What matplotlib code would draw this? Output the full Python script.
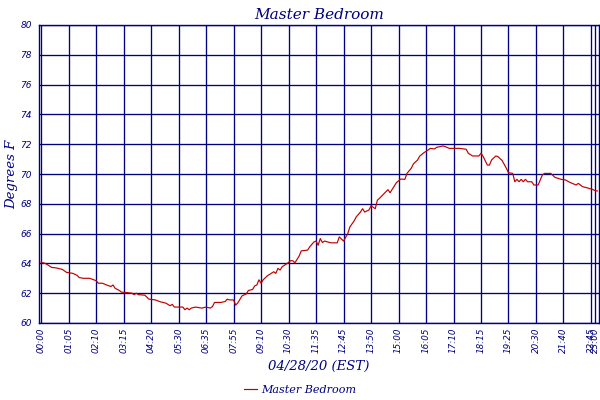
#!/usr/bin/env python3
"""Master Bedroom temperature log, 04/28/20."""

import matplotlib

matplotlib.use("Agg")
import matplotlib.pyplot as plt

NAVY = "#000080"
RED = "#C00000"

# sample index of each reading and its temperature (deg F)
SAMPLE_IDX = [
    0, 2, 5, 7, 10, 12, 15, 17, 18, 20, 23, 26, 27, 29, 31, 33, 34, 35, 37, 38,
    40, 43, 44, 45, 46, 49, 51, 54, 56, 59, 61, 62, 63, 65, 67, 68, 69, 70, 71,
    73, 76, 78, 80, 81, 82, 85, 87, 88, 89, 91, 92, 93, 95, 97, 98, 100, 101,
    102, 103, 104, 105, 107, 108, 110, 111, 112, 113, 114, 116, 118, 119, 120,
    122, 123, 126, 127, 129, 130, 131, 132, 133, 134, 137, 140, 141, 143, 145,
    146, 148, 149, 151, 152, 153, 155, 156, 158, 159, 160, 163, 164, 165, 167,
    168, 170, 172, 173, 175, 176, 178, 179, 181, 183, 184, 186, 187, 190, 191,
    193, 198, 201, 202, 204, 207, 208, 209, 211, 212, 213, 215, 216, 218, 220,
    221, 223, 224, 225, 226, 227, 228, 229, 230, 232, 233, 235, 237, 238, 241,
    243, 246, 248, 250, 253, 254, 256, 258, 261, 262, 263,
]
TEMP_F = [
    64.07, 64.0, 63.73, 63.7, 63.6, 63.4, 63.33, 63.2, 63.05, 63.0, 63.0, 62.84,
    62.67, 62.67, 62.55, 62.45, 62.55, 62.33, 62.18, 62.07, 62.05, 62.0, 61.9,
    62.0, 61.9, 61.87, 61.6, 61.55, 61.44, 61.33, 61.16, 61.25, 61.07, 61.07,
    61.07, 60.89, 61.0, 60.89, 61.0, 61.07, 61.0, 61.07, 61.0, 61.1, 61.38,
    61.38, 61.44, 61.6, 61.55, 61.55, 61.2, 61.35, 61.82, 61.95, 62.18, 62.25,
    62.49, 62.55, 62.9, 62.67, 62.9, 63.17, 63.26, 63.44, 63.33, 63.67, 63.55,
    63.78, 63.96, 64.18, 64.18, 64.04, 64.49, 64.84, 64.89, 65.11, 65.44, 65.5,
    65.22, 65.67, 65.4, 65.5, 65.38, 65.38, 65.78, 65.5, 66.0, 66.45, 66.85,
    67.12, 67.45, 67.67, 67.45, 67.58, 67.87, 67.67, 68.24, 68.37, 68.81, 68.95,
    68.74, 69.2, 69.42, 69.66, 69.64, 70.04, 70.38, 70.67, 70.94, 71.2, 71.43,
    71.61, 71.72, 71.68, 71.79, 71.88, 71.84, 71.72, 71.72, 71.66, 71.39, 71.21,
    71.21, 71.39, 71.18, 70.6, 70.6, 70.94, 71.21, 71.17, 70.9, 70.38, 70.09,
    70.04, 69.48, 69.64, 69.48, 69.64, 69.48, 69.64, 69.48, 69.48, 69.26, 69.26,
    69.93, 70.04, 70.04, 69.77, 69.64, 69.6, 69.44, 69.26, 69.37, 69.15, 69.08,
    68.95, 68.88, 68.86,
]

TICK_IDX = [0, 13, 26, 39, 52, 65, 78, 91, 104, 117, 130, 143, 156, 169, 182,
            195, 208, 221, 234, 247, 260, 262]
TICK_LABELS = ["00:00", "01:05", "02:10", "03:15", "04:20", "05:30", "06:35",
               "07:55", "09:10", "10:30", "11:35", "12:45", "13:50", "15:00",
               "16:05", "17:10", "18:15", "19:25", "20:30", "21:40", "22:45",
               "23:00"]
Y_TICKS = list(range(60, 81, 2))


def main() -> None:
    fig = plt.figure(figsize=(6, 4), dpi=100)
    ax = fig.add_axes([0.065, 0.1925, 0.933, 0.745])

    ax.plot(SAMPLE_IDX, TEMP_F, color=RED, linewidth=0.85, label="Master Bedroom",
            zorder=3)

    ax.set_xlim(-1, 263.7)
    ax.set_ylim(60, 80)
    ax.set_xticks(TICK_IDX)
    ax.set_xticklabels(TICK_LABELS, rotation=90, fontsize=6.3, style="italic",
                       color=NAVY, family="DejaVu Sans")
    ax.set_yticks(Y_TICKS)
    ax.set_yticklabels([str(v) for v in Y_TICKS], fontsize=6.5, style="italic",
                       color=NAVY)
    ax.tick_params(length=0, pad=3)
    ax.tick_params(axis="y", pad=5)
    ax.grid(True, color=NAVY, linewidth=0.95, zorder=1)
    for spine in ax.spines.values():
        spine.set_color(NAVY)
        spine.set_linewidth(1.0)

    ax.set_title("Master Bedroom", fontsize=11, style="italic", color=NAVY,
                 family="DejaVu Serif", pad=4)
    ax.set_ylabel("Degrees F", fontsize=9.5, style="italic", color=NAVY,
                  family="DejaVu Serif", labelpad=2)
    ax.set_xlabel("04/28/20 (EST)", fontsize=9.5, style="italic", color=NAVY,
                  family="DejaVu Serif", labelpad=5)

    leg = fig.legend(loc="lower center", bbox_to_anchor=(0.5, -0.012),
                     frameon=False, handlelength=1.2, handletextpad=0.4,
                     prop={"family": "DejaVu Serif", "style": "italic", "size": 8})
    for text in leg.get_texts():
        text.set_color(NAVY)

    fig.savefig("out.png", dpi=100)
    plt.close(fig)


if __name__ == "__main__":
    main()
